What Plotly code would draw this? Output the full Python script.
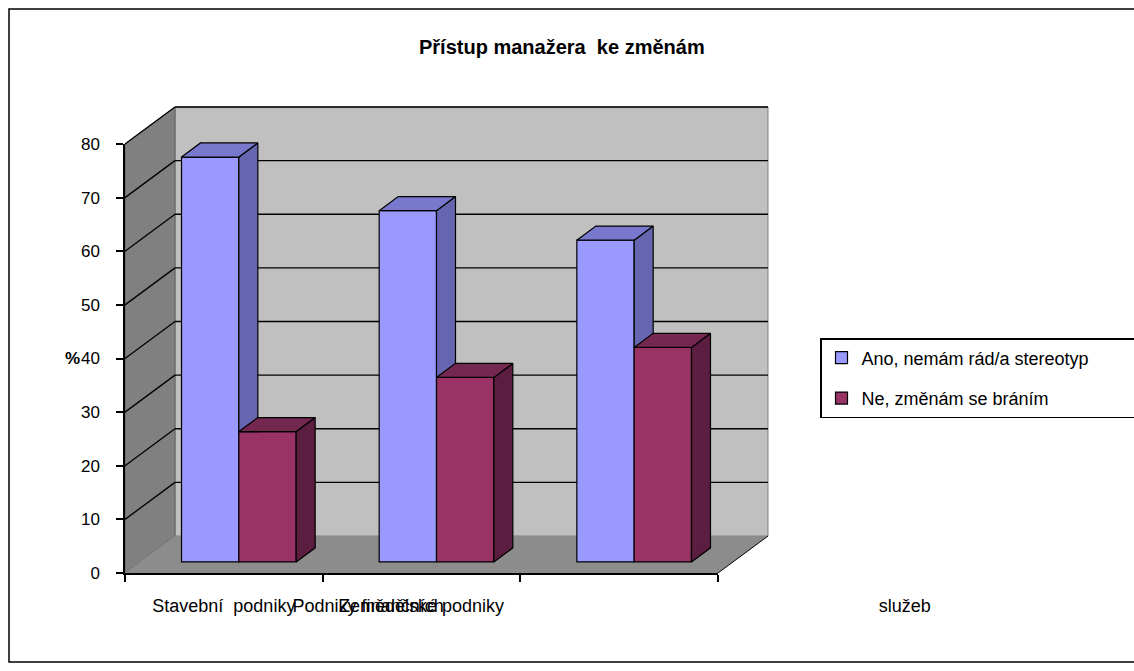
import numpy as np
import plotly.graph_objects as go

# ---------------- data ----------------
categories = ["Stavební\u00a0\u00a0podniky",
              "Zemědělské podniky",
              "Podniky finančních" + "\u00a0" * 87 + "služeb" + "\u00a0" * 3]
series_names = ["Ano, nemám rád/a stereotyp", "Ne, změnám se bráním"]
ano_values = [75.5, 65.5, 60.0]
ne_values = [24.3, 34.4, 40.0]
y_ticks = [0, 10, 20, 30, 40, 50, 60, 70, 80]
title_text = "Přístup manažera  ke změnám"
y_title = "%"

# ---------------- style ----------------
front_colors = ["#9999FF", "#993366"]
side_colors = ["#6666B0", "#5C1E40"]
top_colors = ["#7878CC", "#74284F"]
FONT = "Liberation Sans, Arial, sans-serif"

W, H = 1134, 671
PX_LEFT, PX_RIGHT = 125, 718      # front plane x extent
PY_ZERO, PY_TOP = 573, 144        # front plane y of 0 and of max
Y_MAX = 80
DEPTH_PX = (50, 37)               # back wall offset
GROUP_START, BAR_W = 0.21, 0.29   # bar placement inside a category
F0, F1 = 0.30, 0.68               # bar depth (fraction of wall depth)

n_cat = len(categories)
ux = (PX_RIGHT - PX_LEFT) / n_cat
uy = (PY_ZERO - PY_TOP) / Y_MAX
x_range = [-0.5 - PX_LEFT / ux, -0.5 + (W - PX_LEFT) / ux]
y_range = [-(H - PY_ZERO) / uy, PY_ZERO / uy]
ddx = DEPTH_PX[0] / ux
ddy = DEPTH_PX[1] / uy

xL, xR = -0.5, n_cat - 0.5

shapes = []
# back wall
shapes.append(dict(type="rect", xref="x", yref="y", layer="below",
                   x0=xL + ddx, x1=xR + ddx, y0=ddy, y1=Y_MAX + ddy,
                   fillcolor="#C0C0C0", line=dict(color="#808080", width=1)))
# side wall
shapes.append(dict(type="path", xref="x", yref="y", layer="below",
                   path=f"M {xL},0 L {xL+ddx},{ddy} L {xL+ddx},{Y_MAX+ddy} L {xL},{Y_MAX} Z",
                   fillcolor="#808080", line=dict(color="#606060", width=1)))
# floor
shapes.append(dict(type="path", xref="x", yref="y", layer="below",
                   path=f"M {xL},0 L {xR},0 L {xR+ddx},{ddy} L {xL+ddx},{ddy} Z",
                   fillcolor="#8C8C8C", line=dict(width=0)))
shapes.append(dict(type="line", xref="x", yref="y", layer="below",
                   x0=xR, y0=0, x1=xR + ddx, y1=ddy,
                   line=dict(color="black", width=1)))
# gridlines
for t in y_ticks[1:]:
    shapes.append(dict(type="line", xref="x", yref="y", layer="below",
                       x0=xL + ddx, x1=xR + ddx, y0=t + ddy, y1=t + ddy,
                       line=dict(color="black", width=1.3)))
    shapes.append(dict(type="line", xref="x", yref="y", layer="below",
                       x0=xL, x1=xL + ddx, y0=t, y1=t + ddy,
                       line=dict(color="black", width=1.3)))
# outer chart border
shapes.append(dict(type="rect", xref="paper", yref="paper",
                   x0=9 / W, x1=1.02, y0=1 - 662 / H, y1=1 - 9 / H,
                   line=dict(color="black", width=1.5), fillcolor="rgba(0,0,0,0)"))

fig = go.Figure()

series = [ano_values, ne_values]
base = F0 * ddy
dxb = (F1 - F0) * ddx
dyb = (F1 - F0) * ddy
idx = np.arange(n_cat)

# front faces as bars
for s, vals in enumerate(series):
    xl = idx - 0.5 + GROUP_START + s * BAR_W + F0 * ddx
    fig.add_trace(go.Bar(
        x=xl + BAR_W / 2, y=vals, base=base, width=BAR_W,
        marker=dict(color=front_colors[s], line=dict(color="black", width=1.2)),
        name=series_names[s] + "\u00a0" * 8, legendgroup=f"g{s}",
        xaxis="x", yaxis="y", hoverinfo="skip"))

# side and top faces
for i in range(n_cat):
    for s, vals in enumerate(series):
        v = vals[i]
        xl = i - 0.5 + GROUP_START + s * BAR_W + F0 * ddx
        xr = xl + BAR_W
        if s + 1 < len(series):
            lo = base + series[s + 1][i]
            lo2 = max(lo, base + dyb)
        else:
            lo, lo2 = base, base + dyb
        sx = [xr, xr + dxb, xr + dxb, xr, xr]
        sy = [lo, lo2, base + v + dyb, base + v, lo]
        fig.add_trace(go.Scatter(x=sx, y=sy, mode="lines", fill="toself",
                                 fillcolor=side_colors[s],
                                 line=dict(color="black", width=1.2),
                                 showlegend=False, hoverinfo="skip",
                                 xaxis="x", yaxis="y"))
        tx = [xl, xr, xr + dxb, xl + dxb, xl]
        ty = [base + v, base + v, base + v + dyb, base + v + dyb, base + v]
        fig.add_trace(go.Scatter(x=tx, y=ty, mode="lines", fill="toself",
                                 fillcolor=top_colors[s],
                                 line=dict(color="black", width=1.2),
                                 showlegend=False, hoverinfo="skip",
                                 xaxis="x", yaxis="y"))

# dummy trace for the front axes
fig.add_trace(go.Scatter(x=categories, y=[0] * n_cat, mode="markers",
                         marker=dict(opacity=0), showlegend=False,
                         hoverinfo="skip", xaxis="x2", yaxis="y2"))

fig.update_layout(
    width=W, height=H, autosize=False,
    margin=dict(l=0, r=0, t=0, b=0, autoexpand=False),
    paper_bgcolor="white", plot_bgcolor="rgba(0,0,0,0)",
    barmode="overlay",
    font=dict(family=FONT, size=17, color="black"),
    xaxis=dict(domain=[0, 1], range=x_range, visible=False, fixedrange=True),
    yaxis=dict(domain=[0, 1], range=y_range, visible=False, fixedrange=True),
    xaxis2=dict(domain=[PX_LEFT / W, PX_RIGHT / W], anchor="y2",
                type="category", categoryorder="array", categoryarray=categories,
                range=[-0.5, n_cat - 0.5], tickson="boundaries",
                ticks="outside", ticklen=7, tickwidth=1.5, tickcolor="black",
                showline=True, linecolor="black", linewidth=1.5,
                showgrid=False, zeroline=False, tickangle=0,
                ticklabelstandoff=16, automargin=False,
                tickfont=dict(family=FONT, size=18, color="black")),
    yaxis2=dict(domain=[1 - PY_ZERO / H, 1 - PY_TOP / H], anchor="x2",
                range=[0, Y_MAX], tickvals=y_ticks,
                ticks="outside", ticklen=7, tickwidth=1.5, tickcolor="black",
                showline=True, linecolor="black", linewidth=1.5,
                showgrid=False, zeroline=False, ticklabelstandoff=13,
                automargin=False,
                tickfont=dict(family=FONT, size=17, color="black")),
    showlegend=True,
    legend=dict(x=820 / W, y=1 - 338 / H, xanchor="left", yanchor="top",
                bgcolor="white", bordercolor="black", borderwidth=1.5,
                font=dict(family=FONT, size=18, color="black"),
                tracegroupgap=14, traceorder="grouped"),
    shapes=shapes,
    annotations=[
        dict(text=f"<b>{title_text}</b>", xref="paper", yref="paper",
             x=562 / W, y=1 - 47 / H, xanchor="center", yanchor="middle",
             showarrow=False, font=dict(family=FONT, size=20, color="black")),
        dict(text=f"<b>{y_title}</b>", xref="paper", yref="paper",
             x=82 / W, y=1 - 358 / H, xanchor="right", yanchor="middle",
             showarrow=False, font=dict(family=FONT, size=17, color="black")),
    ],
)

fig.write_html("out.html")
